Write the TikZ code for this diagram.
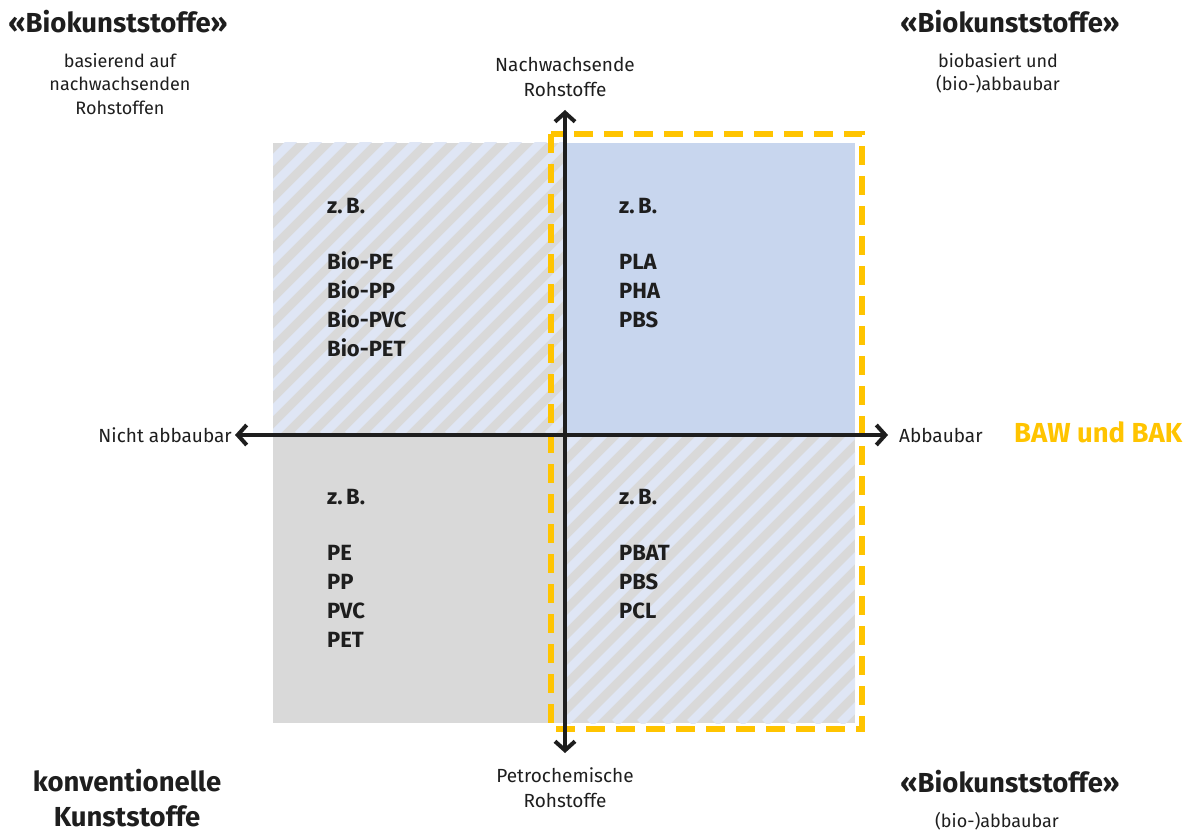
\documentclass[tikz,border=0pt]{standalone}
\usepackage{fontspec}
\setmainfont{Fira Sans}
\usetikzlibrary{arrows.meta}
\definecolor{quadgray}{HTML}{D9D9D9}
\definecolor{quadblue}{HTML}{C8D6EE}
\definecolor{stripeblue}{HTML}{DFE6F5}
\definecolor{bawyellow}{HTML}{FFC400}
\definecolor{axisblack}{HTML}{1E1E1E}
\tikzset{
  axis/.style={line width=4, draw=axisblack, {Straight Barb[length=9,width=20]}-{Straight Barb[length=9,width=20]}},
  stripe/.style={line width=8.5, draw=stripeblue},
  bawbox/.style={draw=bawyellow, line width=6.5, dash pattern=on 19 off 11},
  head/.style={font=\fontsize{27.5}{36}\selectfont\bfseries, text=axisblack, inner sep=0},
  sub/.style={font=\fontsize{18}{23.5}\selectfont, text=axisblack, align=center, inner sep=0},
  axlabel/.style={font=\fontsize{19}{25}\selectfont, text=axisblack, align=center, inner sep=0},
  item/.style={font=\fontsize{22}{29}\selectfont\bfseries, text=axisblack, align=left, anchor=north west, inner sep=0},
}
\begin{document}
\begin{tikzpicture}[x=1pt,y=-1pt]
\useasboundingbox (0,0) rectangle (1202,834);

%Quadrants
\fill[quadgray] (273,143) rectangle (565,435);
\begin{scope}
\clip (273,143) rectangle (565,435);
\foreach \i in {-15,...,15}
  \draw[stripe] (273+\i*25,435) -- ++(320,-320);
\end{scope}
\fill[quadblue] (565,143) rectangle (855,435);
\fill[quadgray] (273,435) rectangle (565,723);
\fill[quadgray] (565,435) rectangle (855,723);
\begin{scope}
\clip (565,435) rectangle (855,723);
\foreach \i in {-15,...,15}
  \draw[stripe] (565+\i*25,723) -- ++(320,-320);
\end{scope}

%BAW box
\draw[bawbox] (551,134) rectangle (862,729);

%Axes
\coordinate (west) at (235,435);
\coordinate (east) at (888,435);
\coordinate (north) at (565,110);
\coordinate (south) at (565,753);
\draw[axis] (west) -- (east);
\draw[axis] (south) -- (north);

%Axis labels
\node[axlabel, anchor=east] (nichtab) at (232,435) {Nicht abbaubar};
\node[axlabel, anchor=west] (abbau) at (899,435) {Abbaubar};
\node[axlabel] (nachw) at (565,77) {Nachwachsende\\Rohstoffe};
\node[axlabel] (petro) at (565,788) {Petrochemische\\Rohstoffe};
\node[head, text=bawyellow, anchor=west] (baw) at (1014,432) {BAW und BAK};

%Corner titles
\node[head] (biotl) at (118,22) {«Biokunststoffe»};
\node[sub, anchor=north] (biotlsub) at (120,53) {basierend auf\\nachwachsenden\\Rohstoffen};
\node[head] (biotr) at (1010,22) {«Biokunststoffe»};
\node[sub, anchor=north] (biotrsub) at (998,53) {biobasiert und\\(bio-)abbaubar};
\node[head, align=center, font=\fontsize{27.5}{35}\selectfont\bfseries] (konv) at (127,798) {konventionelle\\Kunststoffe};
\node[head] (biobr) at (1010,782) {«Biokunststoffe»};
\node[sub] (biobrsub) at (997,821) {(bio-)abbaubar};

%Examples
\node[item] (extl) at (327,198) {z.\,B.\\[27pt]Bio-PE\\Bio-PP\\Bio-PVC\\Bio-PET};
\node[item] (extr) at (619,198) {z.\,B.\\[27pt]PLA\\PHA\\PBS};
\node[item] (exbl) at (327,489) {z.\,B.\\[27pt]PE\\PP\\PVC\\PET};
\node[item] (exbr) at (619,489) {z.\,B.\\[27pt]PBAT\\PBS\\PCL};

\end{tikzpicture}
\end{document}
